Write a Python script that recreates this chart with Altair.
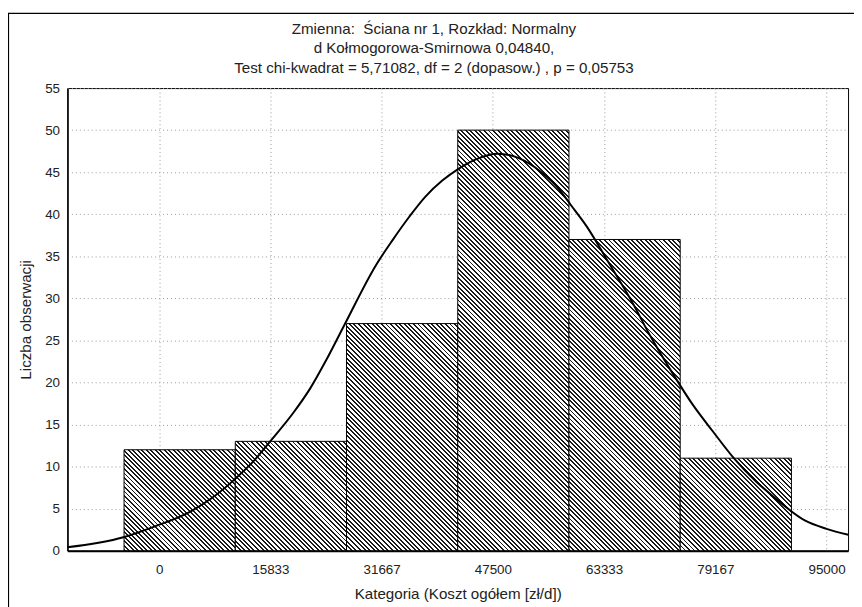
import altair as alt
import pandas as pd

# ---------------- data ----------------
bin_start = [-5000, 10833, 26667, 42500, 58333, 74167]
bin_end = [10833, 26667, 42500, 58333, 74167, 90000]
counts = [12, 13, 27, 50, 37, 11]

curve_x = [-13100, -5100, -600, 4100, 7400, 10900, 13500, 15800, 19100,
           21500, 23800, 26400, 30900, 33200, 35600, 37900, 40300, 42600, 45000,
           48200, 51100, 54400, 56700, 58600, 60900, 63800, 67100, 70000,
           73000, 76000, 78800, 81800, 85000, 87200, 91900, 95000, 98100]
curve_y = [0.4, 1.6, 2.9, 4.5, 6.2, 8.6, 10.7, 13.0, 16.4,
           19.3, 22.7, 26.9, 34.0, 36.9, 39.7, 42.1, 44.0, 45.4, 46.5,
           47.2, 46.7, 45.0, 43.2, 41.1, 38.5, 34.5, 29.9, 25.4,
           21.2, 17.3, 14.2, 11.0, 8.2, 6.6, 3.6, 2.6, 1.9]

x_ticks = [0, 15833, 31667, 47500, 63333, 79167, 95000]
y_ticks = [0, 5, 10, 15, 20, 25, 30, 35, 40, 45, 50, 55]

title_lines = [
    "Zmienna:\u00a0 Ściana nr 1, Rozkład: Normalny",
    "d Kołmogorowa-Smirnowa 0,04840,",
    "Test chi-kwadrat = 5,71082, df = 2 (dopasow.) , p = 0,05753",
]
x_title = "Kategoria (Koszt ogółem [zł/d])"
y_title = "Liczba obserwacji"

X_DOMAIN = [-13060, 98060]
Y_DOMAIN = [0, 55]

# ---------------- layout ----------------
W, H = 788, 467
PAD = {"left": 60, "top": 78, "right": 6, "bottom": 54}
FONT = "Liberation Sans"
FS = 13.5      # tick labels
FT = 15.3      # titles
TXT = "#222222"

bars = pd.DataFrame({"idx": range(len(counts)), "start": bin_start,
                     "end": bin_end, "count": counts})
curve = pd.DataFrame({"start": curve_x, "count": curve_y})

xscale = alt.Scale(domain=X_DOMAIN, nice=False, zero=False)
yscale = alt.Scale(domain=Y_DOMAIN, nice=False)


def hatch(wpx, hpx, period=4.6, frac=0.42, dark="#1a1a1a", light="#ffffff"):
    """Diagonal '\\' hatching as a linear gradient in bounding-box units."""
    lam = (wpx + hpx) / (wpx ** 2 + hpx ** 2)
    n = max(1, round((wpx + hpx) / period))
    stops = []
    for k in range(n):
        a, b, c = k / n, (k + frac) / n, (k + 1) / n
        stops += [{"offset": a, "color": dark}, {"offset": b, "color": dark},
                  {"offset": b, "color": light}, {"offset": c, "color": light}]
    return {"gradient": "linear", "x1": 0, "y1": 1,
            "x2": lam * wpx, "y2": 1 - lam * hpx, "stops": stops}


xaxis = alt.Axis(title=x_title, values=x_ticks, format="d", grid=True,
                 gridColor="#9a9a9a", gridDash=[1, 3], gridWidth=1,
                 tickSize=0, labelPadding=12, titlePadding=11,
                 domainColor="black", domainWidth=2,
                 labelFont=FONT, labelFontSize=FS, labelColor=TXT,
                 titleFont=FONT, titleFontSize=FT, titleFontWeight="normal",
                 titleColor=TXT, labelFlush=False)
yaxis = alt.Axis(title=y_title, values=y_ticks, grid=True,
                 gridColor="#9a9a9a", gridDash=[1, 3], gridWidth=1,
                 tickSize=0, labelPadding=8, titlePadding=11,
                 domainColor="black", domainWidth=1.5,
                 labelFont=FONT, labelFontSize=FS, labelColor=TXT,
                 titleFont=FONT, titleFontSize=FT, titleFontWeight="normal",
                 titleColor=TXT)

X = alt.X("start:Q", scale=xscale, axis=xaxis, title=x_title)
Y = alt.Y("count:Q", scale=yscale, axis=yaxis, title=y_title)

layers = []
xs = W / (X_DOMAIN[1] - X_DOMAIN[0])
ys = H / (Y_DOMAIN[1] - Y_DOMAIN[0])
for i in range(len(counts)):
    wpx = (bin_end[i] - bin_start[i]) * xs
    hpx = counts[i] * ys
    layer = alt.Chart(bars).transform_filter(f"datum.idx == {i}").mark_rect(
        fill=hatch(wpx, hpx), stroke="black", strokeWidth=1
    ).encode(x=X, x2="end:Q", y=Y, y2=alt.datum(0))
    layers.append(layer)

line = alt.Chart(curve).mark_line(
    color="black", strokeWidth=2, interpolate="monotone", clip=True
).encode(x=X, y=Y)
layers.append(line)

frame = alt.Chart(alt.Data(values=[{"a": 1}])).mark_rect(
    fillOpacity=0, stroke="black", strokeWidth=1.2
).encode(
    x=alt.value(-59.5), x2=alt.value(W + 40),
    y=alt.value(-75.5), y2=alt.value(H + 90),
)
layers.append(frame)

for k, txt in enumerate(title_lines):
    t = alt.Chart(alt.Data(values=[{"a": 1}])).mark_text(
        text=txt, font=FONT, fontSize=FT, color=TXT, align="center",
        baseline="middle"
    ).encode(x=alt.value(W / 2 - 24), y=alt.value(-60 + 20 * k))
    layers.append(t)

chart = alt.layer(*layers).properties(
    width=W, height=H, padding=PAD, autosize="none", background="white"
).configure_view(stroke="black", strokeWidth=1)

chart.save("out.html", embed_options={"renderer": "svg", "actions": False})
